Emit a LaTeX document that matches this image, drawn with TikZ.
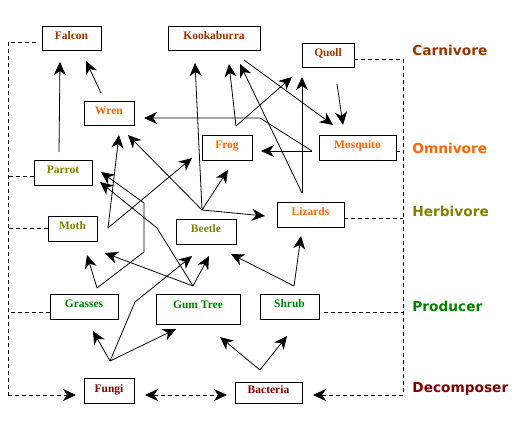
\documentclass[tikz,border=0pt]{standalone}
\usepackage{fontspec}
\usepackage{xcolor}
\usetikzlibrary{arrows.meta}
\newfontfamily\boxfont{Liberation Serif}
\newfontfamily\levelfont{DejaVu Sans}
\definecolor{carncol}{HTML}{993300}
\definecolor{omnicol}{HTML}{FF6600}
\definecolor{herbcol}{HTML}{808000}
\definecolor{prodcol}{HTML}{008000}
\definecolor{decocol}{HTML}{800000}

\begin{document}
\begin{tikzpicture}[x=1pt,y=-1pt,line width=0.8pt,
  >={Stealth[length=13pt,width=12pt,inset=4pt]},
  animal/.style={draw,inner sep=0pt,minimum height=25pt,text height=8pt,text depth=5pt,
    font=\boxfont\bfseries\fontsize{11.5}{12}\selectfont},
  level/.style={anchor=west,inner sep=0pt,font=\levelfont\bfseries\fontsize{13.7}{15}\selectfont},
  feeds/.style={->},
  bus/.style={dash pattern=on 4pt off 3pt}]
  \useasboundingbox (0,0) rectangle (525,430);

  % boxes
  \node[animal,text=carncol,minimum width=59pt,minimum height=24pt] (falcon)     at (71.5,38)   {Falcon};
  \node[animal,text=carncol,minimum width=92pt,minimum height=24pt] (kookaburra) at (214,38)    {Kookaburra};
  \node[animal,text=carncol,minimum width=52pt,minimum height=24pt] (quoll)      at (328,55)    {Quoll};
  \node[animal,text=omnicol,minimum width=50pt,minimum height=24pt] (wren)       at (109,113)   {Wren};
  \node[animal,text=omnicol,minimum width=50pt] (frog)       at (227,147.5) {Frog};
  \node[animal,text=omnicol,minimum width=77pt] (mosquito)   at (357.5,147.5) {Mosquito};
  \node[animal,text=herbcol,minimum width=58pt] (parrot)     at (63,172.5)  {Parrot};
  \node[animal,text=herbcol,minimum width=49pt] (moth)       at (72.5,228.5) {Moth};
  \node[animal,text=herbcol,minimum width=60pt] (beetle)     at (206,231.5) {Beetle};
  \node[animal,text=omnicol,minimum width=67pt] (lizards)    at (310.5,214.5) {Lizards};
  \node[animal,text=prodcol,minimum width=68pt] (grasses)    at (84,306.5)  {Grasses};
  \node[animal,text=prodcol,minimum width=84pt,minimum height=30pt,text depth=8pt] (gumtree) at (198,309) {Gum Tree};
  \node[animal,text=prodcol,minimum width=59pt] (shrub)      at (289.5,306.5) {Shrub};
  \node[animal,text=decocol,minimum width=50pt] (fungi)      at (109,390.5) {Fungi};
  \node[animal,text=decocol,minimum width=67pt,minimum height=21pt] (bacteria) at (268.5,392.5) {Bacteria};

  % levels
  \node[level,text=carncol] (carnlbl) at (412,50)  {Carnivore};
  \node[level,text=omnicol] (omnilbl) at (412,148) {Omnivore};
  \node[level,text=herbcol] (herblbl) at (412,211) {Herbivore};
  \node[level,text=prodcol] (prodlbl) at (412,306) {Producer};
  \node[level,text=decocol] (decolbl) at (412,389) {Decomposer};

  % where the arrows leave and meet
  \coordinate (parrotTop) at (59,152);   \coordinate (wrenTop) at (101,93);
  \coordinate (kookaFoot) at (244,60);   \coordinate (quollFoot) at (337,84);
  \coordinate (frogHub) at (236,126);    \coordinate (mosqHub) at (312,151);
  \coordinate (lizardsHub) at (302,193); \coordinate (beetleHub) at (202,210);
  \coordinate (mothHub) at (108,228);    \coordinate (grassHub) at (97,288);
  \coordinate (gumHub) at (193,286);     \coordinate (shrubHub) at (294,286);
  \coordinate (fungiHub) at (110,361);   \coordinate (bactHub) at (260,370);

  \coordinate (falconA) at (60,62);   \coordinate (falconB) at (86,61);
  \coordinate (kookaA) at (195,63);   \coordinate (kookaB) at (229,64);  \coordinate (kookaC) at (240,64);
  \coordinate (quollA) at (292,77);   \coordinate (quollB) at (302,77);
  \coordinate (mosqA) at (333,125);   \coordinate (mosqB) at (343,125);
  \coordinate (wrenA) at (144,118);   \coordinate (wrenB) at (128,135);  \coordinate (wrenC) at (119,135);
  \coordinate (frogA) at (261,151);   \coordinate (frogB) at (228,170);  \coordinate (frogC) at (192,158);
  \coordinate (lizardsA) at (265,216); \coordinate (lizardsB) at (301,236);
  \coordinate (parrotA) at (101,172); \coordinate (parrotB) at (100,182);
  \coordinate (mothA) at (87,255);    \coordinate (mothB) at (105,253);
  \coordinate (beetleA) at (209,256); \coordinate (beetleB) at (192,256); \coordinate (beetleC) at (231,254);
  \coordinate (grassesA) at (93,331);
  \coordinate (gumA) at (176,329);    \coordinate (gumB) at (220,337);
  \coordinate (shrubA) at (287,336);

  \coordinate (mosqBend) at (260,118);
  \coordinate (grassBendA) at (144,252); \coordinate (grassBendB) at (144,203);
  \coordinate (gumBend) at (157,228);
  \coordinate (fungiBend) at (135,302);

  % who eats whom
  \path[feeds] (parrotTop) edge (falconA)
               (wrenTop) edge (falconB)
               (kookaFoot) edge (mosqA)
               (quollFoot) edge (mosqB)
               (frogHub) edge (kookaB)
                         edge (quollA)
               (lizardsHub) edge (kookaC)
                            edge (quollB)
               (mosqHub) edge (frogA)
               (beetleHub) edge (kookaA)
                           edge (wrenB)
                           edge (frogB)
                           edge (lizardsA)
               (mothHub) edge (wrenC)
                         edge (frogC)
               (grassHub) edge (mothA)
               (gumHub) edge (mothB)
                        edge (beetleA)
               (shrubHub) edge (beetleC)
                          edge (lizardsB)
               (fungiHub) edge (grassesA)
                          edge (gumA)
               (bactHub) edge (gumB)
                         edge (shrubA);
  \draw[feeds] (mosqHub) -- (mosqBend) -- (wrenA);
  \draw[feeds] (grassHub) -- (grassBendA) -- (grassBendB) -- (parrotA);
  \draw[feeds] (gumHub) -- (gumBend) -- (parrotB);
  \draw[feeds] (fungiHub) -- (fungiBend) -- (beetleB);

  % dashed level lines
  \coordinate (busLtop) at (8,42);   \coordinate (busLbot) at (8,395);
  \coordinate (busRtop) at (403,59); \coordinate (busRbot) at (403,395);
  \coordinate (fungiIn) at (76,395);  \coordinate (bactIn) at (313,395);
  \coordinate (fungiOut) at (145,395); \coordinate (bactOut) at (227,395);

  \draw[bus] ([xshift=-6pt,yshift=-4pt]falcon.west) -- (busLtop) -- (busLbot);
  \draw[bus] ([yshift=-3.5pt]parrot.west) -- ++(-26,0);
  \draw[bus] (moth.west) -- ++(-40,0);
  \draw[bus] ([yshift=-5.5pt]grasses.west) -- ++(-42,0);
  \draw[bus,->] (busLbot) -- (fungiIn);

  \draw[bus] ([yshift=-4pt]quoll.east) -- (busRtop) -- (busRbot);
  \draw[bus] ([yshift=-3.5pt]mosquito.east) -- ++(7,0);
  \draw[bus] ([yshift=-3.5pt]lizards.east) -- ++(59,0);
  \draw[bus] ([xshift=5pt,yshift=-5.5pt]shrub.east) -- ++(79,0);
  \draw[bus,->] (busRbot) -- (bactIn);

  \draw[bus,<->] (fungiOut) -- (bactOut);
\end{tikzpicture}
\end{document}
